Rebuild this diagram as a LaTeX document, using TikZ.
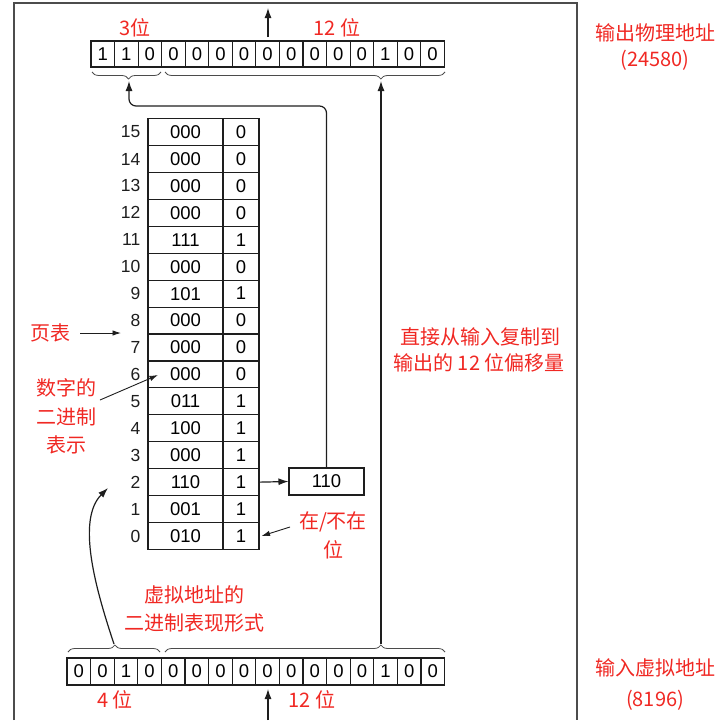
\documentclass[tikz,border=0pt]{standalone}
\usepackage{fontspec}
\setmainfont{Liberation Sans}
\newfontfamily\cjk{Noto Sans CJK SC}
\usetikzlibrary{decorations.pathreplacing,arrows.meta,calc}
\definecolor{lab}{RGB}{240,40,35}
\definecolor{ink}{RGB}{30,30,30}
\newcommand\dgfont{\fontsize{18.5}{18.5}\selectfont}
\newcommand\rlfont{\fontsize{17.5}{17.5}\selectfont}
\newcommand\cjfont{\cjk\fontsize{20}{20}\selectfont}
\tikzset{
  bitcell/.style={draw=ink, line width=1.1pt, minimum width=23.55pt, minimum height=26pt, inner sep=0pt, font=\dgfont},
  tcella/.style={draw=ink, line width=1.1pt, minimum width=75pt, minimum height=26.93pt, inner sep=0pt, font=\dgfont},
  tcellb/.style={draw=ink, line width=1.1pt, minimum width=36pt, minimum height=26.93pt, inner sep=0pt, font=\dgfont},
  rowlab/.style={anchor=east, inner sep=0pt, font=\rlfont, text=ink},
  redlab/.style={inner sep=0pt, text=lab, font=\cjfont},
  arr/.style={-{Latex[length=10pt,width=7pt]}, line width=1.2pt, draw=ink},
  sarr/.style={-{Latex[length=8.5pt,width=5.5pt]}, line width=0.9pt, draw=ink},
  bracestyle/.style={decorate, line width=0.8pt, draw=ink!80},
  frame/.style={line width=1.6pt, draw=black!70}
}
\begin{document}
\begin{tikzpicture}[x=1pt,y=-1pt]
\useasboundingbox (0,0) rectangle (728,720);
% outer frame
\draw[frame] (14,720) -- (14,3) -- (577,3) -- (577,720);

% top register (output physical address)
\foreach \b [count=\i from 0] in {1,1,0,0,0,0,0,0,0,0,0,0,1,0,0}{
  \node[bitcell] (t\i) at ({91+23.55*(\i+0.5)},54) {\b};
}
% bottom register (input virtual address)
\foreach \b [count=\i from 0] in {0,0,1,0,0,0,0,0,0,0,0,0,0,1,0,0}{
  \node[bitcell, minimum height=27pt] (v\i) at ({67+23.6*(\i+0.5)},671.5) {\b};
}

% braces
\draw[bracestyle, decoration={brace, mirror, amplitude=7pt, aspect=0.53}] (92,72) -- (161,72);
\draw[bracestyle, decoration={brace, mirror, amplitude=7pt, aspect=0.771}] (165,72) -- (445,72);
\draw[bracestyle, decoration={brace, amplitude=7pt, aspect=0.51}] (68,652) -- (160,652);
\draw[bracestyle, decoration={brace, amplitude=7pt, aspect=0.771}] (165,652) -- (445,652);
\coordinate (tt1) at (129,81);
\coordinate (tt2) at (381,81);
\coordinate (bt1) at (114,644);
\coordinate (bt2) at (381,644);

% page table
\foreach \k/\f/\p in {15/000/0,14/000/0,13/000/0,12/000/0,11/111/1,10/000/0,9/101/1,8/000/0,7/000/0,6/000/0,5/011/1,4/100/1,3/000/1,2/110/1,1/001/1,0/010/1}{
  \node[tcella] (a\k) at (185.5,{536-26.93*\k}) {\f};
  \node[tcellb] (b\k) at (241,{536-26.93*\k}) {\p};
  \node[rowlab] (n\k) at (140.5,{536-26.93*\k}) {\k};
}

% physical frame box
\node[tcella, minimum height=27pt] (phys) at (326.5,481.5) {110};

% connectors
\draw[arr] (b2.east) -- (phys.west);
\coordinate (bend) at (129,106);
\draw[arr, rounded corners=7pt] (phys.north) |- (bend) -- (tt1);
\draw[arr] (bt2) -- (tt2);
\coordinate (c2) at (108,488);
\draw[arr] (bt1) .. controls (96,590) and (76,520) .. (c2);

% top and bottom arrows
\coordinate (upA) at (268,37);
\coordinate (upB) at (268,8);
\draw[arr] (upA) -- (upB);
\coordinate (inA) at (268,720);
\coordinate (inB) at (268,689);
\draw[arr] (inA) -- (inB);

% labels
\node[redlab] (l3) at (135,28) {3位};
\node[redlab] (l12a) at (337,28) {12 位};
\node[redlab] (l4) at (115,700) {4 位};
\node[redlab] (l12b) at (312,700) {12 位};

\node[redlab] (op1) at (655,33) {输出物理地址};
\node[redlab] (op2) at (655,60) {(24580)};
\node[redlab] (iv1) at (655,668) {输入虚拟地址};
\node[redlab] (iv2) at (655,700) {(8196)};

\node[redlab] (cp1) at (480,337) {直接从输入复制到};
\node[redlab] (cp2) at (479,363) {输出的 12 位偏移量};

\node[redlab] (vb1) at (194,595) {虚拟地址的};
\node[redlab] (vb2) at (194,623) {二进制表现形式};

\node[redlab] (pt) at (50,333) {页表};
\coordinate (ptE) at (121,333);
\draw[sarr] (pt.east) ++(10,0) coordinate (ptS) -- (ptE);

\node[redlab] (bn1) at (66,388) {数字的};
\node[redlab] (bn2) at (66,417) {二进制};
\node[redlab] (bn3) at (66,445) {表示};
\coordinate (bnS) at (100,400);
\coordinate (bnE) at (158,375);
\draw[sarr] (bnS) -- (bnE);

\node[redlab] (pr1) at (333,522) {在/不在};
\node[redlab] (pr2) at (333,550) {位};
\coordinate (prS) at (290,527);
\draw[sarr] (prS) -- ($(b0.east)+(2,0)$);
\end{tikzpicture}
\end{document}
